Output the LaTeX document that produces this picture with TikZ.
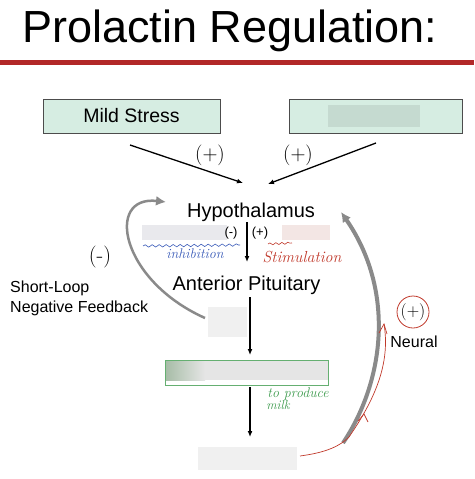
\documentclass[tikz,border=0pt]{standalone}
\usepackage{fontspec}
\setmainfont{Liberation Sans}
\newfontfamily\handfont{Latin Modern Roman}
\usetikzlibrary{calc,arrows.meta,decorations.pathmorphing}

\definecolor{boxgreen}{RGB}{214,237,226}
\definecolor{titlered}{RGB}{178,40,40}
\definecolor{blurgray}{RGB}{233,233,237}
\definecolor{blurpink}{RGB}{243,230,228}
\definecolor{penblue}{RGB}{58,91,184}
\definecolor{penred}{RGB}{192,57,43}
\definecolor{pengreen}{RGB}{62,155,78}
\definecolor{loopgray}{RGB}{138,138,138}

\tikzset{
	fs/.style={font=\fontsize{#1}{#1}\selectfont},
	stimbox/.style={draw=black!70, fill=boxgreen, minimum height=34pt, inner sep=0pt, fs=19.5},
	plain/.style={inner sep=0pt, fs=20},
	flow/.style={line width=1.3pt, -{Latex[length=6pt,width=5pt]}},
	loop/.style={line width=3pt, draw=loopgray, -{Latex[length=10pt,width=10pt]}},
	blur/.style={fill=#1, draw=none},
	hand/.style={inner sep=0pt, text=#1, font=\handfont\itshape\fontsize{14}{14}\selectfont},
}

\begin{document}
\begin{tikzpicture}[x=1pt, y=-1pt]
\useasboundingbox (0,0) rectangle (474,479);

% title
\node[anchor=base west, inner sep=0pt, fs=45] (title) at (22,42) {Prolactin Regulation:};
\fill[titlered] (0,59.5) rectangle (474,65);

% top boxes
\node[stimbox, minimum width=177pt] (stress) at (131.5,116) {Mild Stress};
\node[stimbox, minimum width=173pt] (other) at (375.5,116) {};
\fill[blur={boxgreen!80!black!40!boxgreen}] (328,105) rectangle (420,127);

\coordinate (stressout) at (130,145);
\coordinate (otherout) at (376,143);
\coordinate (hypleft) at (243,183);
\coordinate (hypright) at (268,184);
\draw[flow] (stressout) -- (hypleft);
\draw[flow] (otherout) -- (hypright);
\node[fs=20, inner sep=0pt] (plusl) at (210,155) {$(+)$};
\node[fs=20, inner sep=0pt] (plusr) at (298,155) {$(+)$};

% main chain
\node[plain, anchor=base] (hyp) at (251,217) {Hypothalamus};
\node[plain, anchor=base] (ap) at (246.5,290) {Anterior Pituitary};
\coordinate (hypdown) at (247,222);
\coordinate (apup) at (247,262);
\draw[flow] (hypdown) -- (apup);

\fill[blur=blurgray] (142,225) rectangle (227,240);
\fill[blur=blurpink] (282,225) rectangle (330,240);
\node[inner sep=0pt, fs=13] (minus) at (231,233) {(-)};
\node[inner sep=0pt, fs=13] (plus) at (260,233) {(+)};
\draw[penblue, line width=0.6pt, decorate, decoration={snake, amplitude=1.2pt, segment length=7pt}] (143,246) -- (240,245);
\node[hand=penblue] (inhib) at (195,254) {inhibition};
\draw[penred, line width=0.6pt, decorate, decoration={snake, amplitude=1pt, segment length=6pt}] (268,244) -- (292,243);
\node[hand=penred, font=\handfont\itshape\fontsize{16}{16}\selectfont] (stim) at (302,257) {Stimulation};

\coordinate (apdown) at (250,297);
\coordinate (prlin) at (250,355);
\draw[flow] (apdown) -- (prlin);
\fill[blur={black!6}] (208,307) rectangle (247,337);

% green box
\shade[left color=green!25!black!35, right color=black!10] (165,360) rectangle (205,380);
\fill[black!10] (205,360) rectangle (328,380);
\draw[pengreen!80, line width=0.8pt] (165,360) rectangle (328,385);
\node[inner sep=0pt, minimum width=163pt, minimum height=25pt] (breast) at (246.5,372.5) {};

\coordinate (breastout) at (250,387);
\coordinate (milkin) at (250,437);
\draw[flow] (breastout) -- (milkin);
\node[hand=pengreen, anchor=base, font=\handfont\itshape\fontsize{14}{14}\selectfont] (prod) at (298,397) {to produce};
\node[hand=pengreen, anchor=base, font=\handfont\itshape\fontsize{13}{13}\selectfont] (milk) at (278,409) {milk};
\fill[blur={black!6}] (198,447) rectangle (297,470);

% short-loop feedback
\coordinate (slstart) at (205,318);
\coordinate (slend) at (166,202);
\draw[loop, line width=2.5pt] (slstart) .. controls (120,280) and (105,195) .. (slend);
\node[inner sep=0pt, font=\handfont\fontsize{22}{22}\selectfont] (slsign) at (100,257) {(-)};
\node[anchor=base west, inner sep=0pt, fs=16, align=left] (sltext) at (10,312) {Short-Loop\\[4pt]Negative Feedback};

% neural
\coordinate (nstart) at (343,443);
\coordinate (nend) at (341,212);
\draw[loop, line width=4pt] (nstart) .. controls (385,380) and (395,290) .. (nend);
\draw[penred, line width=0.7pt] (300,456) .. controls (322,453) and (338,448) .. (349,437)
	.. controls (378,395) and (390,360) .. (384,324);
\draw[penred, line width=0.7pt] (358,421) -- (364,414) -- (368,422);
\draw[penred, line width=0.7pt] (379,333) -- (384,324) -- (387,334);
\node[inner sep=0pt, fs=18] (nsign) at (413,312) {$(+)$};
\draw[penred, line width=0.8pt] (nsign) circle (16pt);
\node[anchor=base, inner sep=0pt, fs=16] (neural) at (414,347) {Neural};
\end{tikzpicture}
\end{document}
